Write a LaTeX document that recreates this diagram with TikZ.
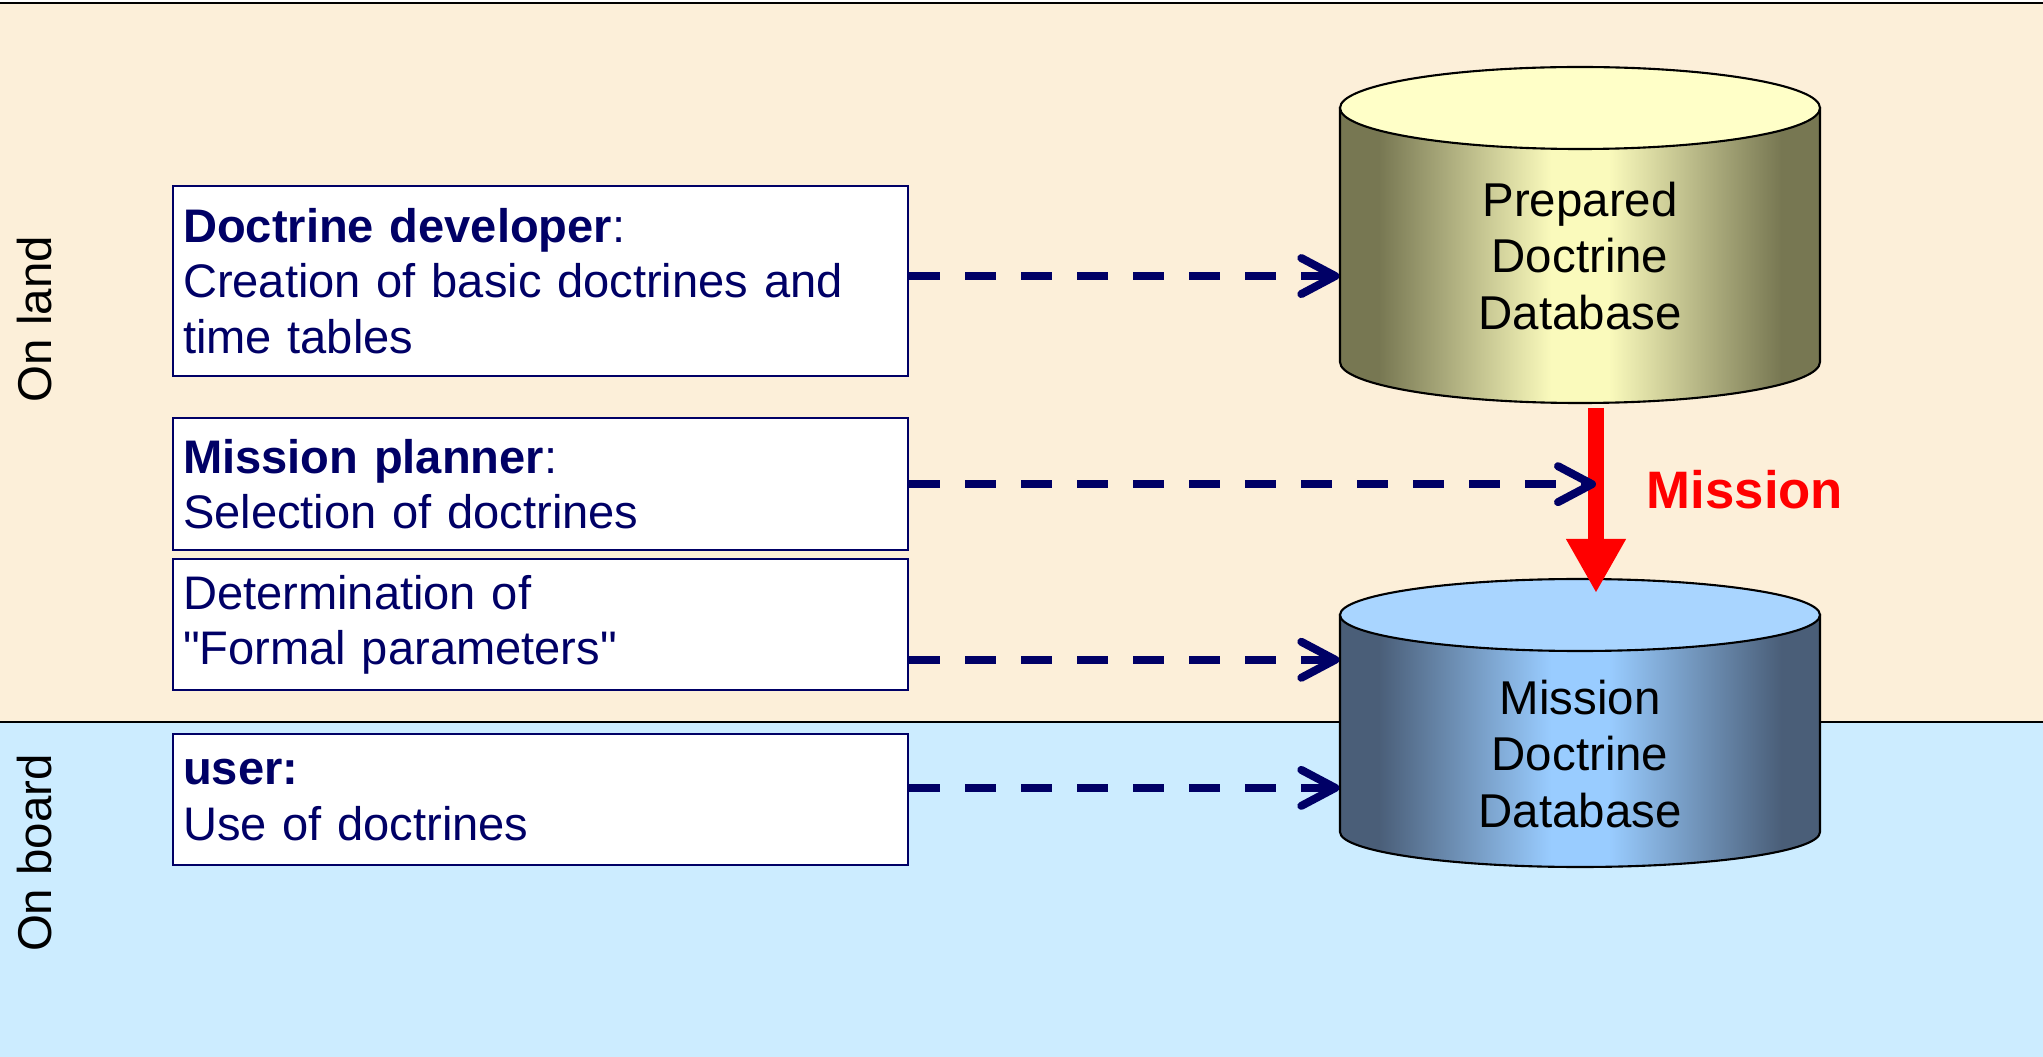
\documentclass[tikz,border=0pt]{standalone}
\usepackage{fontspec}
\setmainfont{Liberation Sans}[Ligatures=TeXOff]
\usetikzlibrary{positioning,arrows.meta}

\definecolor{landbg}{HTML}{FCEFD9}
\definecolor{boardbg}{HTML}{CCECFF}
\definecolor{navy}{HTML}{000066}
\definecolor{prepTop}{HTML}{FFFFC8}
\definecolor{prepDk}{HTML}{777752}
\definecolor{prepLt}{HTML}{FAFABC}
\definecolor{missTop}{HTML}{A9D5FF}
\definecolor{missDk}{HTML}{4A5E78}
\definecolor{missLt}{HTML}{99CCFF}

\pgfdeclarehorizontalshading{prepside}{100bp}{color(0bp)=(prepDk); color(29bp)=(prepDk); color(47bp)=(prepLt); color(53bp)=(prepLt); color(71bp)=(prepDk); color(100bp)=(prepDk)}
\pgfdeclarehorizontalshading{missside}{100bp}{color(0bp)=(missDk); color(29bp)=(missDk); color(47bp)=(missLt); color(53bp)=(missLt); color(71bp)=(missDk); color(100bp)=(missDk)}

\begin{document}
\begin{tikzpicture}[role/.style={draw=navy,line width=0.6pt,fill=white,text=navy,text width=7.15cm,inner xsep=0.1cm,minimum width=7.35cm,align=left,font=\fontsize{13.4}{15.9}\selectfont},
	dbtext/.style={align=center,minimum width=4.8cm,font=\fontsize{13.5}{16.2}\selectfont},
	side/.style={rotate=90,font=\fontsize{13.5}{16}\selectfont},
	mislbl/.style={text=red,font=\fontsize{15}{18}\selectfont\bfseries},
	dasharr/.style={draw=navy,line width=0.08cm,dash pattern=on 0.31cm off 0.25cm,-{Straight Barb[length=3.4mm,width=3.6mm,round]}},
	misarr/.style={draw=red,line width=0.16cm,-{Triangle[length=0.54cm,width=0.56cm]}},
	]

	\useasboundingbox (0,0) rectangle (20.43,-10.57);
	\fill[white] (0,0) rectangle (20.43,-0.03);
	\fill[landbg] (0,-0.03) rectangle (20.43,-7.22);
	\fill[boardbg] (0,-7.22) rectangle (20.43,-10.57);
	\draw[line width=0.6pt] (0,-0.03) -- (20.43,-0.03);
	\draw[line width=0.6pt] (0,-7.22) -- (20.43,-7.22);

	\node[side] (land) at (0.35,-3.19) {On land};
	\node[side] (board) at (0.35,-8.53) {On board};

	% databases
	\shadedraw[shading=prepside,line width=0.6pt] (13.40,-1.08) -- (13.40,-3.62) arc[start angle=180,end angle=360,x radius=2.40cm,y radius=0.41cm] -- (18.20,-1.08) -- cycle;
	\draw[fill=prepTop,line width=0.6pt] (15.80,-1.08) ellipse[x radius=2.40cm,y radius=0.41cm];
	\node[dbtext] (prep) at (15.80,-2.56) {Prepared\\Doctrine\\Database};

	\shadedraw[shading=missside,line width=0.6pt] (13.40,-6.15) -- (13.40,-8.32) arc[start angle=180,end angle=360,x radius=2.40cm,y radius=0.35cm] -- (18.20,-6.15) -- cycle;
	\draw[fill=missTop,line width=0.6pt] (15.80,-6.15) ellipse[x radius=2.40cm,y radius=0.36cm];
	\node[dbtext] (mdb) at (15.80,-7.54) {Mission\\Doctrine\\Database};

	% roles
	\node[role,minimum height=1.90cm,anchor=north west] (dev) at (1.72,-1.85) {\textbf{Doctrine developer}:\\Creation of basic doctrines and\\time tables};
	\node[role,minimum height=1.32cm,below=0.40cm of dev] (plan) {\textbf{Mission planner}:\\Selection of doctrines};
	\node[role,minimum height=1.31cm,below=0.07cm of plan] (param) {Determination of\\"Formal parameters"};
	\node[role,minimum height=1.31cm,below=0.42cm of param] (user) {\textbf{user:}\\Use of doctrines};

	\coordinate (mtop) at (15.96,-4.08);
	\coordinate (mbot) at (15.96,-5.93);
	\draw[misarr] (mtop) -- (mbot);
	\node[mislbl] (mlbl) at (17.45,-4.90) {Mission};

	\draw[dasharr] ([yshift=0.05cm]dev.east) -- ([yshift=0.05cm]dev.east -| prep.west);
	\draw[dasharr] (plan.east) -- (plan.east -| mtop);
	\draw[dasharr] ([yshift=-0.35cm]param.east) -- ([yshift=-0.35cm]param.east -| mdb.west);
	\draw[dasharr] ([yshift=0.12cm]user.east) -- ([yshift=0.12cm]user.east -| mdb.west);

\end{tikzpicture}
\end{document}
